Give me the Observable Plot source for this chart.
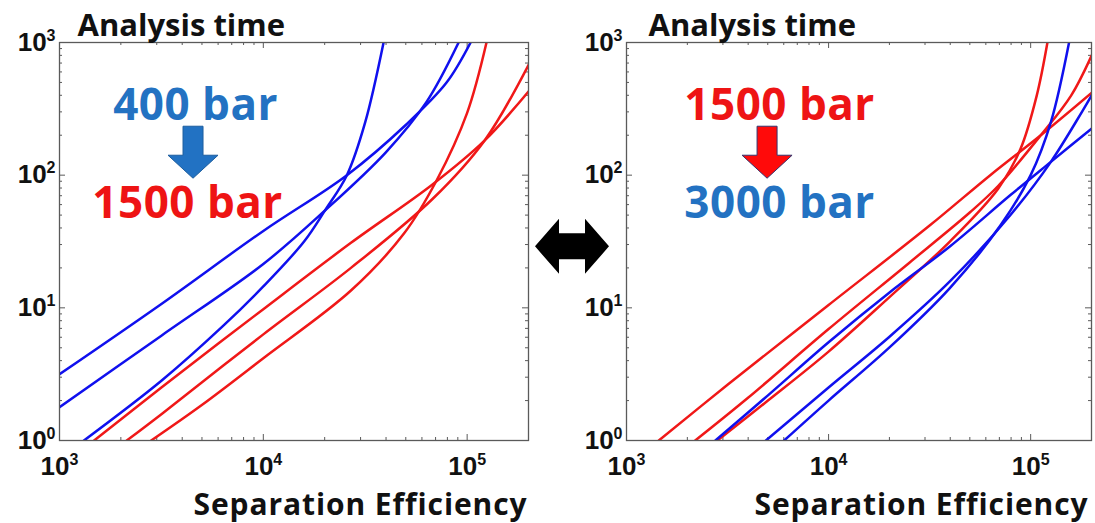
<!DOCTYPE html>
<html><head><meta charset="utf-8">
<script src="https://cdn.jsdelivr.net/npm/d3@7"></script>
<script src="https://cdn.jsdelivr.net/npm/@observablehq/plot@0.6"></script>
<style>
body{margin:0;background:#fff;}
#chart{position:relative;width:1095px;height:523px;overflow:hidden;background:#fff;}
#chart svg{position:absolute;top:0;overflow:visible;background:transparent;}
</style></head><body><div id="chart"></div>
<script>
// ---- data ----
const xTicks = [1e3, 1e4, 1e5];
const yTicks = [1, 10, 100, 1000];
const xMinor = [2000,3000,4000,5000,6000,7000,8000,9000,20000,30000,40000,50000,60000,70000,80000,90000];
const yMinor = [2,3,4,5,6,7,8,9,20,30,40,50,60,70,80,90,200,300,400,500,600,700,800,900];
const titleText = "Analysis time";
const xLabelText = "Separation Efficiency";

// left panel: 400 bar (blue) vs 1500 bar (red)
const left400a = [[1000,3.16],[3162,10.7],[10000,38],[25704,100],[50119,240],[79433,501],[104000,1000]];
const left400b = [[1000,1.78],[3162,6.17],[10000,21.4],[19953,53.7],[39811,148],[63096,355],[90800,1000]];
const left400c = [[1318,1],[3162,2.82],[6310,7.24],[10000,14.5],[15849,31.6],[20184,55],[25704,100],[31623,251],[38905,1000]];
const left1500a = [[1479,1],[3162,2.51],[10000,9.77],[26915,30.9],[67608,85.1],[121619,182],[200000,427]];
const left1500b = [[2138,1],[3162,1.58],[10000,6.31],[26915,20],[67608,66.1],[121619,182],[200000,676]];
const left1500c = [[2818,1],[5012,1.86],[10000,4.17],[26915,13.5],[48978,36.3],[70795,91.2],[100000,295],[124451,1000]];
// right panel: 1500 bar (red) vs 3000 bar (blue)
const right1500a = [[1445,1],[3162,2.63],[10000,10.5],[31623,41.7],[63096,100],[112202,200],[200000,417]];
const right1500b = [[2188,1],[3981,2.09],[10000,6.92],[25119,21.9],[50119,52.5],[69183,83.2],[112202,200],[158489,398],[200000,794]];
const right1500c = [[2818,1],[5012,2],[10000,4.68],[19953,12],[39811,31.6],[69183,79.4],[89125,158],[107152,398],[121059,1000]];
const right3000a = [[2754,1],[5012,2.19],[10000,5.5],[19953,13],[39811,29],[79433,70.8],[125893,126],[200000,224]];
const right3000b = [[4898,1],[10000,2.51],[19953,6.03],[39811,15.8],[79433,50.1],[125893,126],[200000,398]];
const right3000c = [[6026,1],[10000,2],[19953,5.01],[39811,14.1],[70795,41.7],[100000,100],[125893,251],[154882,1000]];

const lineBlue = "#1010ee", lineRed = "#f01818";
const textBlue = "#2372c2", textRed = "#ee1414";

function rowsOf(list) {
  const rows = [];
  list.forEach(([pts, color], k) => pts.forEach(([x, y]) => rows.push({id: k, color, x, y})));
  return rows;
}

const panels = [
  {
    left: 0, width: 530, ml: 59, mr: 2, titleDx: 18, xlabDx: -1,
    curves: [[left400a, lineBlue],[left400b, lineBlue],[left400c, lineBlue],[left1500a, lineRed],[left1500b, lineRed],[left1500c, lineRed]],
    notes: [{x: 4650, y: 335, text: "400 bar", color: textBlue}, {x: 4250, y: 61, text: "1500 bar", color: textRed}],
    arrow: {x: 4545, y: 94, fill: "#2272c3", stroke: "#1d5e9e"},
    doubleArrow: false
  },
  {
    left: 530, width: 565, ml: 96, mr: 4, titleDx: 22, xlabDx: -3,
    curves: [[right1500a, lineRed],[right1500b, lineRed],[right1500c, lineRed],[right3000a, lineBlue],[right3000b, lineBlue],[right3000c, lineBlue]],
    notes: [{x: 5720, y: 335, text: "1500 bar", color: textRed}, {x: 5720, y: 61, text: "3000 bar", color: textBlue}],
    arrow: {x: 4990, y: 94, fill: "#ff0a0a", stroke: "#34346e"},
    doubleArrow: true
  }
];

const H = 523, mt = 42, mb = 83;
const textFont = "'Open Sans', Lato, sans-serif";
const tickFont = "'Liberation Sans', Arial, sans-serif";
const frameColor = "#5a5a5a";

for (const P of panels) {
  const iw = P.width - P.ml - P.mr, ih = H - mt - mb;
  const blockArrow = (index, scales) => {
    const px = scales.x(P.arrow.x), py = scales.y(P.arrow.y);
    const pts = [[px-10,py-52],[px+10,py-52],[px+10,py-23],[px+25,py-23],[px,py],[px-25,py-23],[px-10,py-23]];
    const g = d3.create("svg:g");
    g.append("polygon").attr("points", pts.map(p => p.join(",")).join(" "))
      .attr("fill", P.arrow.fill).attr("stroke", P.arrow.stroke).attr("stroke-width", 1);
    return g.node();
  };
  const dblArrow = (index, scales, values, dims) => {
    const x0 = dims.marginLeft - 91, x1 = dims.marginLeft - 17, cy = dims.marginTop + ih * 0.5135;
    const pts = [[x0,cy],[x0+24,cy-27.5],[x0+24,cy-13],[x1-24,cy-13],[x1-24,cy-27.5],[x1,cy],[x1-24,cy+27.5],[x1-24,cy+13],[x0+24,cy+13],[x0+24,cy+27.5]];
    const g = d3.create("svg:g");
    g.append("polygon").attr("points", pts.map(p => p.join(",")).join(" ")).attr("fill", "#000");
    return g.node();
  };
  const marks = [
    Plot.ruleX(xMinor, {x: d => d, insetTop: ih - 3, stroke: frameColor}),
    Plot.ruleX(xMinor, {x: d => d, insetBottom: ih - 3, stroke: frameColor}),
    Plot.ruleX(xTicks, {x: d => d, insetTop: ih - 6, stroke: frameColor}),
    Plot.ruleX(xTicks, {x: d => d, insetBottom: ih - 6, stroke: frameColor}),
    Plot.ruleY(yMinor, {y: d => d, insetRight: iw - 3, stroke: frameColor}),
    Plot.ruleY(yMinor, {y: d => d, insetLeft: iw - 3, stroke: frameColor}),
    Plot.ruleY(yTicks, {y: d => d, insetRight: iw - 6, stroke: frameColor}),
    Plot.ruleY(yTicks, {y: d => d, insetLeft: iw - 6, stroke: frameColor}),
    Plot.line(rowsOf(P.curves), {x: "x", y: "y", z: "id", stroke: "color", strokeWidth: 2.5, curve: "catmull-rom", clip: true}),
    Plot.frame({stroke: frameColor, strokeWidth: 1.3}),
    Plot.axisX({ticks: xTicks, tickSize: 0, tickPadding: 16, label: null, tickFormat: d => "10^" + Math.round(Math.log10(d)), fill: "#111"}),
    Plot.axisY({ticks: yTicks, tickSize: 0, tickPadding: 4, label: null, tickFormat: d => "10^" + Math.round(Math.log10(d)), fill: "#111"}),
    Plot.text([titleText], {text: d => d, frameAnchor: "top-left", dx: P.titleDx, dy: -7, lineAnchor: "bottom", textAnchor: "start", fontSize: 31, fontWeight: "bold", fontFamily: textFont, fill: "#111"}),
    Plot.text([xLabelText], {text: d => d, frameAnchor: "bottom-right", dx: P.xlabDx, dy: 74, lineAnchor: "bottom", textAnchor: "end", fontSize: 30, fontWeight: "bold", fontFamily: textFont, fill: "#111", className: "xlab"}),
    Plot.text(P.notes, {x: "x", y: "y", text: "text", fill: "color", fontSize: 44, fontWeight: "bold", fontFamily: textFont, className: "note"}),
    blockArrow
  ];
  if (P.doubleArrow) marks.push(dblArrow);
  const svg = Plot.plot({
    width: P.width, height: H,
    marginLeft: P.ml, marginRight: P.mr, marginTop: mt, marginBottom: mb,
    x: {type: "log", domain: [1e3, 2e5]},
    y: {type: "log", domain: [1, 1e3]},
    color: {type: "identity"},
    style: {background: "transparent", overflow: "visible"},
    marks
  });
  svg.style.left = P.left + "px";
  svg.querySelectorAll(".xlab text").forEach(t => t.setAttribute("letter-spacing", "0.9"));
  svg.querySelectorAll(".note text").forEach(t => t.setAttribute("letter-spacing", "0.5"));
  // tick label font and superscript exponents
  svg.querySelectorAll('g[aria-label="x-axis tick label"], g[aria-label="y-axis tick label"]').forEach(g => {
    g.setAttribute("font-size", "26");
    g.setAttribute("font-family", tickFont);
    g.setAttribute("font-weight", "bold");
  });
  svg.querySelectorAll('g[aria-label="x-axis tick label"] text, g[aria-label="y-axis tick label"] text').forEach(t => {
    const [base, exp] = t.textContent.split("^");
    t.textContent = base;
    const ts = document.createElementNS("http://www.w3.org/2000/svg", "tspan");
    ts.setAttribute("dy", "-10");
    ts.setAttribute("font-size", "16");
    ts.textContent = exp;
    t.appendChild(ts);
  });
  document.getElementById("chart").appendChild(svg);
}
</script>
</body></html>
